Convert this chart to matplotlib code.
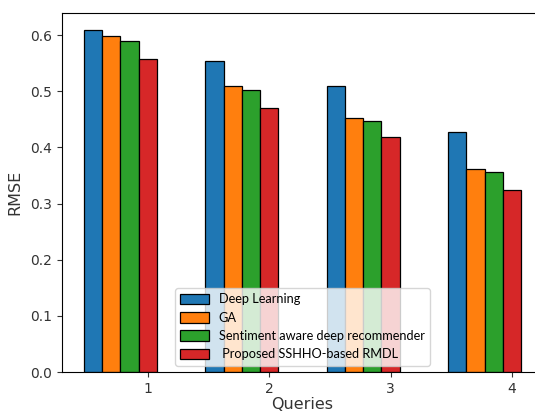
import matplotlib
matplotlib.use("Agg")
import matplotlib.pyplot as plt
import numpy as np

queries = [1, 2, 3, 4]
series_names = ["Deep Learning", "GA", "Sentiment aware deep recommender", " Proposed SSHHO-based RMDL"]
deep_learning = [0.609, 0.554, 0.510, 0.428]
ga = [0.598, 0.509, 0.452, 0.361]
sentiment = [0.590, 0.503, 0.447, 0.356]
proposed = [0.558, 0.470, 0.418, 0.325]
colors = ["#1f77b4", "#ff7f0e", "#2ca02c", "#d62728"]

fig = plt.figure(figsize=(5.35, 4.16), dpi=100)
ax = fig.add_axes([62/535, 44/416, 481/535, 359/416])

x = np.array(queries, dtype=float)
w = 0.15
all_vals = [deep_learning, ga, sentiment, proposed]
for i, (vals, name, c) in enumerate(zip(all_vals, series_names, colors)):
    ax.bar(x - (3 - i) * w, vals, width=w, color=c, edgecolor="black", linewidth=0.9, label=name)

ax.set_xticks(x)
ax.set_xticklabels([str(q) for q in queries])
ax.tick_params(labelsize=10, colors="#333333")
ax.set_xlabel("Queries", fontsize=11.5, color="#333333", labelpad=1)
ax.set_ylabel("RMSE", fontsize=11.5, color="#333333", labelpad=6)
ax.spines["right"].set_visible(False)

leg = ax.legend(loc="lower center", prop={"family": "Lato", "size": 9.2},
                handlelength=2.2, handleheight=0.9, borderaxespad=0.5, labelspacing=0.5,
                handletextpad=0.8)

fig.savefig("out.png", dpi=100)
